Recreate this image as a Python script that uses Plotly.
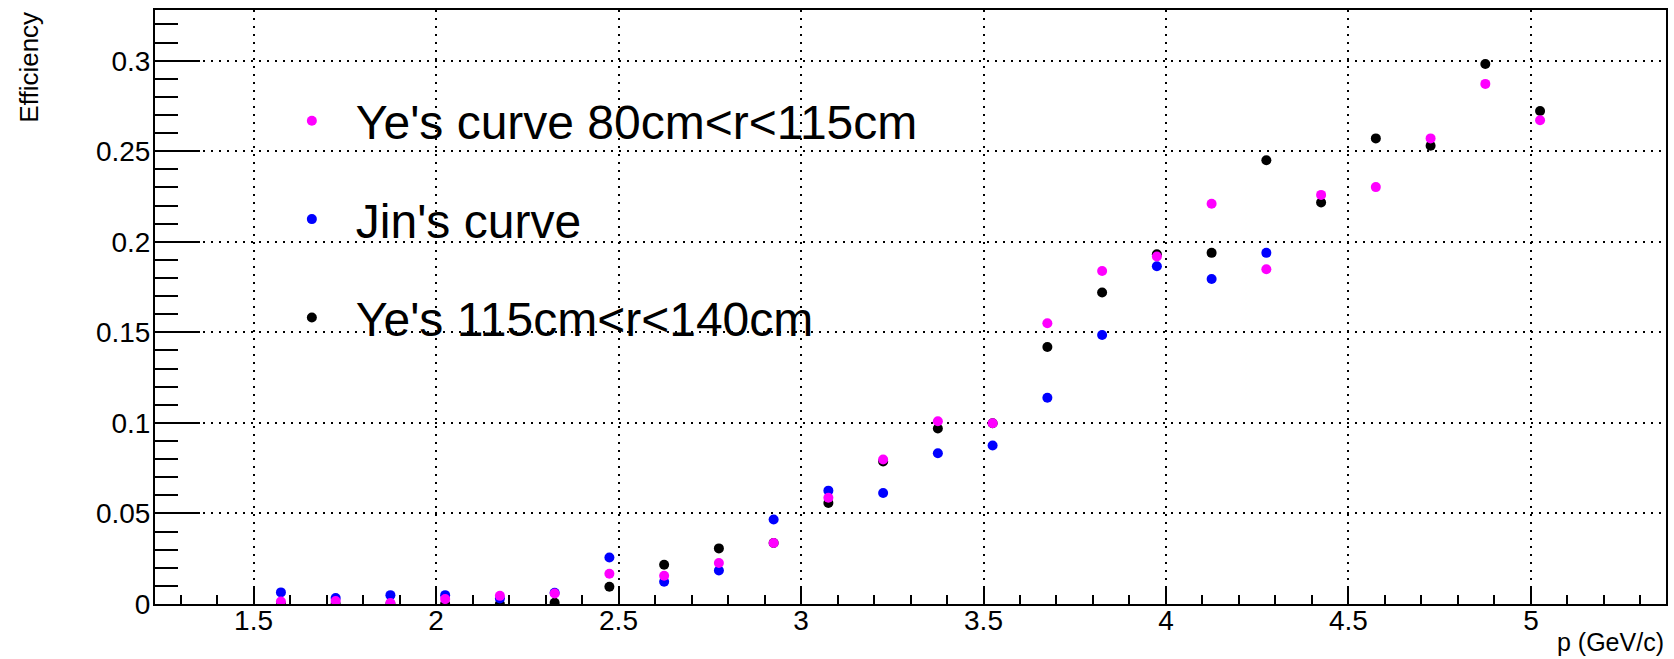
import plotly.graph_objects as go

# momentum bin centres (GeV/c)
p_values = [1.575, 1.725, 1.875, 2.025, 2.175, 2.325, 2.475, 2.625, 2.775, 2.925,
            3.075, 3.225, 3.375, 3.525, 3.675, 3.825, 3.975, 4.125, 4.275, 4.425,
            4.575, 4.725, 4.875, 5.025]

# Ye's curve 80cm<r<115cm (magenta)
eff_ye_80_115 = [0.0014, 0.0016, 0.0005, 0.0027, 0.0045, 0.0058, 0.0167, 0.0156, 0.0226, 0.0337,
                 0.0587, 0.0798, 0.1009, 0.0998, 0.1550, 0.1839, 0.1919, 0.2210, 0.1848, 0.2259,
                 0.2302, 0.2571, 0.2872, 0.2671]

# Jin's curve (blue) - first 19 bins only
p_jin = [1.575, 1.725, 1.875, 2.025, 2.175, 2.325, 2.475, 2.625, 2.775, 2.925,
         3.075, 3.225, 3.375, 3.525, 3.675, 3.825, 3.975, 4.125, 4.275]
eff_jin = [0.0064, 0.0033, 0.0049, 0.0049, 0.0030, 0.0062, 0.0257, 0.0123, 0.0185, 0.0467,
           0.0626, 0.0613, 0.0832, 0.0875, 0.1139, 0.1485, 0.1865, 0.1795, 0.1939]

# Ye's 115cm<r<140cm (black)
eff_ye_115_140 = [0.0000, 0.0000, 0.0000, 0.0000, 0.0000, 0.0007, 0.0095, 0.0217, 0.0307, 0.0337,
                  0.0558, 0.0787, 0.0969, 0.0998, 0.1419, 0.1720, 0.1931, 0.1939, 0.2450, 0.2217,
                  0.2571, 0.2530, 0.2982, 0.2722]

x_range = [1.23, 5.37]
y_range = [0, 0.328]

FONT = "Liberation Sans, Arial, Helvetica, sans-serif"

fig = go.Figure()

fig.add_trace(go.Scatter(
    x=p_values, y=eff_ye_115_140, mode="markers", name="Ye's 115cm<r<140cm",
    marker=dict(color="#000000", size=10), legendgroup="c", legendrank=3))
fig.add_trace(go.Scatter(
    x=p_jin, y=eff_jin, mode="markers", name="Jin's curve",
    marker=dict(color="#0000ff", size=10), legendgroup="b", legendrank=2))
fig.add_trace(go.Scatter(
    x=p_values, y=eff_ye_80_115, mode="markers", name="Ye's curve 80cm<r<115cm",
    marker=dict(color="#ff00ff", size=10), legendgroup="a", legendrank=1))

# white legend box (ROOT TLegend) covering the grid but not the data
fig.add_shape(type="rect", xref="paper", yref="paper",
              x0=(257 - 155) / 1513, x1=(645 - 155) / 1513,
              y0=(604 - 368) / 594, y1=(604 - 70) / 594,
              fillcolor="white", line=dict(width=0), layer="between")

grid_dash = "2px,6px"

fig.update_xaxes(
    range=x_range, dtick=0.5, tick0=0,
    showline=True, linecolor="black", linewidth=2, mirror=True,
    ticks="inside", ticklen=17, tickwidth=2, tickcolor="black",
    minor=dict(ticks="inside", ticklen=9, tickwidth=2, tickcolor="black", dtick=0.1, tick0=0, showgrid=False),
    showgrid=True, gridcolor="black", gridwidth=2, griddash=grid_dash,
    zeroline=False,
    tickfont=dict(family=FONT, size=28, color="black"),
    ticklabelstandoff=-10,
)
fig.update_yaxes(
    range=y_range, dtick=0.05, tick0=0,
    showline=True, linecolor="black", linewidth=2, mirror=True,
    ticks="inside", ticklen=45, tickwidth=2, tickcolor="black",
    minor=dict(ticks="inside", ticklen=23, tickwidth=2, tickcolor="black", dtick=0.01, tick0=0, showgrid=False),
    showgrid=True, gridcolor="black", gridwidth=2, griddash=grid_dash,
    zeroline=False,
    tickfont=dict(family=FONT, size=28, color="black"),
    ticklabelstandoff=-3,
)

fig.add_annotation(text="Efficiency", xref="paper", yref="paper",
                   x=(28 - 155) / 1513, y=1.0, xanchor="center", yanchor="top",
                   textangle=-90, showarrow=False,
                   font=dict(family=FONT, size=26, color="black"))
fig.add_annotation(text="p (GeV/c)", xref="paper", yref="paper",
                   x=1.0, y=-(626 - 604) / 594, xanchor="right", yanchor="top",
                   showarrow=False,
                   font=dict(family=FONT, size=25, color="black"))

fig.update_layout(
    width=1674, height=659,
    margin=dict(l=155, r=6, t=10, b=55),
    paper_bgcolor="white", plot_bgcolor="white",
    showlegend=True,
    legend=dict(x=(268 - 155) / 1513, y=(604 - 83) / 594, xanchor="left", yanchor="top",
                bgcolor="rgba(0,0,0,0)", borderwidth=0,
                font=dict(family=FONT, size=48, color="black"),
                traceorder="grouped", tracegroupgap=33, itemwidth=78),
)

fig.write_html("out.html",
               config={"displayModeBar": False},
               post_script="document.body.style.margin='0';document.body.style.overflow='hidden';")
